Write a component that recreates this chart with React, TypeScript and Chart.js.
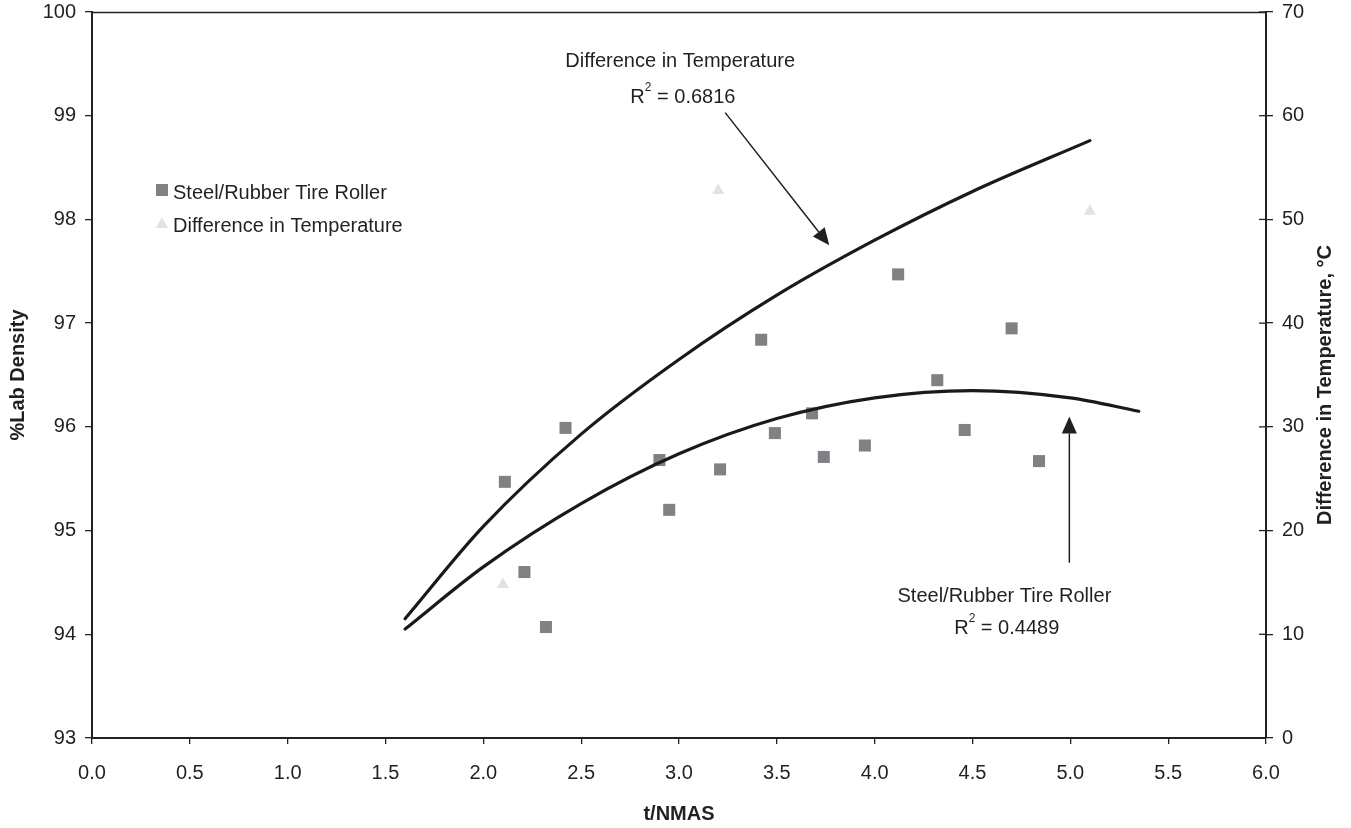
import React, { useEffect, useRef } from 'react';
import { Chart, registerables } from 'chart.js';

Chart.register(...registerables);

// ---- data ----
const rollerLabel = 'Steel/Rubber Tire Roller';
const tempLabel = 'Difference in Temperature';

const rollerX = [2.11, 2.21, 2.32, 2.42, 2.9, 2.95, 3.21, 3.42, 3.49, 3.68, 3.74, 3.95, 4.12, 4.32, 4.46, 4.7, 4.84];
const rollerDensity = [95.47, 94.6, 94.07, 95.99, 95.68, 95.2, 95.59, 96.84, 95.94, 96.13, 95.71, 95.82, 97.47, 96.45, 95.97, 96.95, 95.67];

const tempX = [2.1, 3.2, 5.1];
const tempDiff = [14.8, 52.8, 50.8];

// trend lines
const rollerTrendX = [1.6, 2.0, 2.5, 3.0, 3.5, 4.0, 4.5, 5.0, 5.35];
const rollerTrendY = [94.05, 94.65, 95.26, 95.74, 96.08, 96.28, 96.35, 96.28, 96.15];
const tempTrendX = [1.6, 2.0, 2.5, 3.0, 3.5, 4.0, 4.5, 5.1];
const tempTrendY = [11.5, 20.4, 29.3, 36.5, 42.7, 48.0, 52.7, 57.6];

const rollerR2 = '0.4489';
const tempR2 = '0.6816';

const xTitle = 't/NMAS';
const yTitle = '%Lab Density';
const y1Title = 'Difference in Temperature, °C';

const FONT = '"Liberation Sans", Arial, Helvetica, sans-serif';
const INK = '#231f20';

function toPoints(xs: number[], ys: number[]) {
  return xs.map((x, i) => ({ x, y: ys[i] }));
}

function drawArrow(ctx: CanvasRenderingContext2D, x0: number, y0: number, x1: number, y1: number) {
  const ang = Math.atan2(y1 - y0, x1 - x0);
  const headLen = 17;
  const headHalf = 7.5;
  const bx = x1 - Math.cos(ang) * headLen;
  const by = y1 - Math.sin(ang) * headLen;
  ctx.strokeStyle = INK;
  ctx.lineWidth = 1.5;
  ctx.beginPath();
  ctx.moveTo(x0, y0);
  ctx.lineTo(bx, by);
  ctx.stroke();
  ctx.fillStyle = INK;
  ctx.beginPath();
  ctx.moveTo(x1, y1);
  ctx.lineTo(bx + Math.sin(ang) * headHalf, by - Math.cos(ang) * headHalf);
  ctx.lineTo(bx - Math.sin(ang) * headHalf, by + Math.cos(ang) * headHalf);
  ctx.closePath();
  ctx.fill();
}

function drawR2(ctx: CanvasRenderingContext2D, cx: number, cy: number, value: string) {
  const main = '20px ' + FONT;
  const sup = '12px ' + FONT;
  ctx.font = main;
  const wR = ctx.measureText('R').width;
  const rest = ' = ' + value;
  const wRest = ctx.measureText(rest).width;
  ctx.font = sup;
  const w2 = ctx.measureText('2').width;
  const total = wR + w2 + wRest;
  let x = cx - total / 2;
  ctx.textAlign = 'left';
  ctx.textBaseline = 'middle';
  ctx.fillStyle = INK;
  ctx.font = main;
  ctx.fillText('R', x, cy);
  x += wR;
  ctx.font = sup;
  ctx.fillText('2', x, cy - 9);
  x += w2;
  ctx.font = main;
  ctx.fillText(rest, x, cy);
}

const overlayPlugin = {
  id: 'overlay',
  afterDraw(chart: any) {
    const { ctx, chartArea, scales } = chart;
    const sx = scales.x;
    const sy = scales.y;
    const sy1 = scales.y1;
    ctx.save();

    // top frame line
    ctx.strokeStyle = '#222';
    ctx.lineWidth = 1.3;
    ctx.beginPath();
    ctx.moveTo(chartArea.left, chartArea.top + 0.5);
    ctx.lineTo(chartArea.right, chartArea.top + 0.5);
    ctx.stroke();

    // inner half of right-axis ticks (cross ticks)
    ctx.lineWidth = 1.3;
    sy1.ticks.forEach((t: any) => {
      const py = sy1.getPixelForValue(t.value);
      ctx.beginPath();
      ctx.moveTo(chartArea.right - 7, py);
      ctx.lineTo(chartArea.right, py);
      ctx.stroke();
    });

    // legend
    const ds = chart.data.datasets;
    const lx = chartArea.left + 70;
    const ly1 = chartArea.top + 178;
    const ly2 = chartArea.top + 211;
    ctx.fillStyle = ds[0].backgroundColor;
    ctx.fillRect(lx - 6, ly1 - 6, 12, 12);
    ctx.fillStyle = ds[1].backgroundColor;
    ctx.beginPath();
    ctx.moveTo(lx, ly2 - 6);
    ctx.lineTo(lx + 6, ly2 + 5);
    ctx.lineTo(lx - 6, ly2 + 5);
    ctx.closePath();
    ctx.fill();
    ctx.fillStyle = INK;
    ctx.font = '20px ' + FONT;
    ctx.textAlign = 'left';
    ctx.textBaseline = 'middle';
    ctx.fillText(ds[0].label, lx + 11, ly1 + 3);
    ctx.fillText(ds[1].label, lx + 11, ly2 + 3);

    // annotations
    ctx.textAlign = 'center';
    ctx.fillText(tempLabel, sx.getPixelForValue(3.006), sy.getPixelForValue(99.52));
    drawR2(ctx, sx.getPixelForValue(3.02), sy.getPixelForValue(99.18), tempR2);
    drawArrow(ctx, sx.getPixelForValue(3.236), sy.getPixelForValue(99.03), sx.getPixelForValue(3.768), sy.getPixelForValue(97.75));

    ctx.fillStyle = INK;
    ctx.font = '20px ' + FONT;
    ctx.textAlign = 'center';
    ctx.fillText(rollerLabel, sx.getPixelForValue(4.663), sy.getPixelForValue(94.36));
    drawR2(ctx, sx.getPixelForValue(4.675), sy.getPixelForValue(94.06), rollerR2);
    drawArrow(ctx, sx.getPixelForValue(4.995), sy.getPixelForValue(94.69), sx.getPixelForValue(4.995), sy.getPixelForValue(96.1));

    // axis titles
    ctx.fillStyle = INK;
    ctx.font = 'bold 20px ' + FONT;
    ctx.textAlign = 'center';
    ctx.textBaseline = 'middle';
    ctx.fillText(xTitle, (chartArea.left + chartArea.right) / 2, 814);

    const midY = (chartArea.top + chartArea.bottom) / 2;
    ctx.save();
    ctx.translate(18, midY);
    ctx.rotate(-Math.PI / 2);
    ctx.fillText(yTitle, 0, 0);
    ctx.restore();

    ctx.save();
    ctx.translate(1325, midY + 10);
    ctx.rotate(-Math.PI / 2);
    ctx.fillText(y1Title, 0, 0);
    ctx.restore();

    ctx.restore();
  },
};

export default function App() {
  const canvasRef = useRef<HTMLCanvasElement | null>(null);

  useEffect(() => {
    document.body.style.margin = '0';
    const canvas = canvasRef.current;
    if (!canvas) return;

    const tickFont = { family: FONT, size: 20 };
    const gridCommon = {
      display: true,
      drawOnChartArea: false,
      drawTicks: true,
      color: '#222',
      lineWidth: 1.3,
    };
    const borderCommon = { display: true, color: '#222', width: 2 };
    const fixY = (w: number) => (s: any) => {
      s.width = w;
      s.paddingTop = 12;
      s.paddingBottom = 0;
    };

    const chart = new Chart(canvas, {
      type: 'scatter',
      data: {
        datasets: [
          {
            label: rollerLabel,
            data: toPoints(rollerX, rollerDensity),
            yAxisID: 'y',
            backgroundColor: '#808085',
            borderColor: '#808085',
            pointStyle: 'rect',
            pointRadius: 8.5,
            pointBorderWidth: 0,
            showLine: false,
            order: 2,
          },
          {
            label: tempLabel,
            data: toPoints(tempX, tempDiff),
            yAxisID: 'y1',
            backgroundColor: '#e2e2e6',
            borderColor: '#e2e2e6',
            pointStyle: 'triangle',
            pointRadius: 7,
            pointBorderWidth: 0,
            showLine: false,
            order: 2,
          },
          {
            label: 'roller trend',
            type: 'line',
            data: toPoints(rollerTrendX, rollerTrendY),
            yAxisID: 'y',
            borderColor: '#1a1a1a',
            borderWidth: 3.2,
            pointRadius: 0,
            fill: false,
            cubicInterpolationMode: 'monotone',
            borderCapStyle: 'round',
            order: 1,
          },
          {
            label: 'temperature trend',
            type: 'line',
            data: toPoints(tempTrendX, tempTrendY),
            yAxisID: 'y1',
            borderColor: '#1a1a1a',
            borderWidth: 3.2,
            pointRadius: 0,
            fill: false,
            cubicInterpolationMode: 'monotone',
            borderCapStyle: 'round',
            order: 1,
          },
        ],
      } as any,
      options: {
        animation: false,
        responsive: false,
        devicePixelRatio: 1,
        layout: { padding: 0, autoPadding: false },
        plugins: {
          legend: { display: false },
          tooltip: { enabled: false },
          title: { display: false },
        },
        scales: {
          x: {
            type: 'linear',
            position: 'bottom',
            min: 0,
            max: 6,
            ticks: {
              stepSize: 0.5,
              color: INK,
              font: tickFont,
              padding: 17,
              callback: (v: any) => Number(v).toFixed(1),
            },
            grid: { ...gridCommon, tickLength: 6 },
            border: borderCommon,
            afterFit: (s: any) => {
              s.height = 90;
              s.paddingLeft = 0;
              s.paddingRight = 0;
            },
          },
          y: {
            type: 'linear',
            position: 'left',
            min: 93,
            max: 100,
            ticks: { stepSize: 1, color: INK, font: tickFont, padding: 9 },
            grid: { ...gridCommon, tickLength: 7 },
            border: borderCommon,
            afterFit: fixY(92),
          },
          y1: {
            type: 'linear',
            position: 'right',
            min: 0,
            max: 70,
            ticks: { stepSize: 10, color: INK, font: tickFont, padding: 9 },
            grid: { ...gridCommon, tickLength: 7 },
            border: borderCommon,
            afterFit: fixY(85),
          },
        },
      } as any,
      plugins: [overlayPlugin],
    });

    return () => {
      chart.destroy();
    };
  }, []);

  return (
    <div style={{ width: 1351, height: 828, background: '#fff' }}>
      <canvas ref={canvasRef} width={1351} height={828} style={{ display: 'block' }} />
    </div>
  );
}
